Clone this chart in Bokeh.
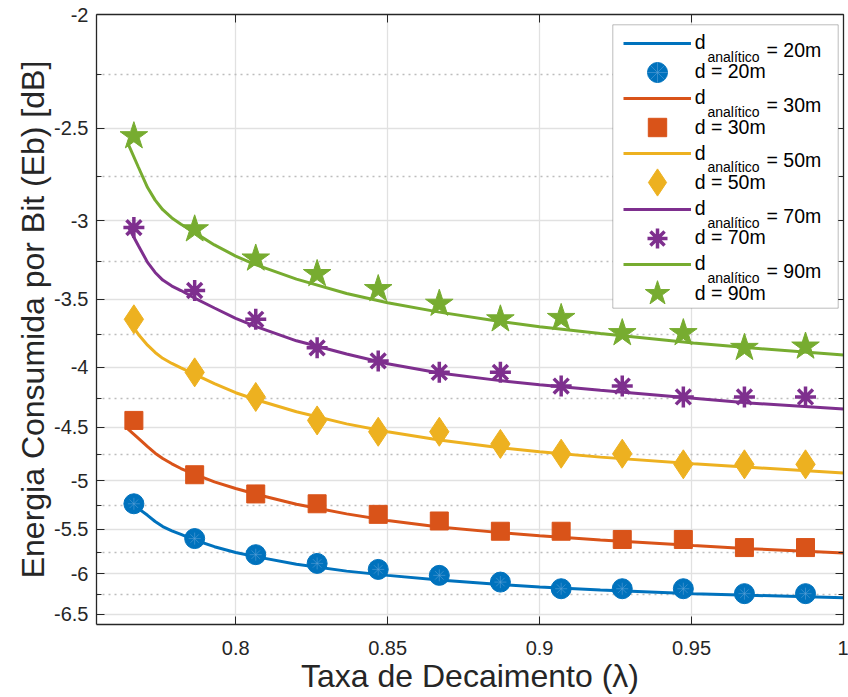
from bokeh.plotting import figure
from bokeh.models import (Range1d, FixedTicker, CustomJSTickFormatter, LinearAxis, LogAxis,
                          Legend, LegendItem, Label, BoxAnnotation, ColumnDataSource,
                          CustomLabelingPolicy)
from bokeh.core.properties import value
from bokeh.embed import file_html
from bokeh.resources import INLINE

# ---------------- data ----------------
x_ticks = [0.8, 0.85, 0.9, 0.95, 1.0]
y_ticks = [-2, -2.5, -3, -3.5, -4, -4.5, -5, -5.5, -6, -6.5]
y_minor = [-2.25, -2.75, -3.25, -3.75, -4.25, -4.75, -5.25, -5.75, -6.25]

# simulated points
x_pts = [0.7665, 0.7865, 0.8066, 0.8268, 0.8469, 0.867, 0.8871, 0.9071, 0.9272, 0.9473, 0.9674, 0.9875]
d20 = [-5.23, -5.60, -5.78, -5.88, -5.95, -6.02, -6.10, -6.18, -6.18, -6.18, -6.24, -6.24]
d30 = [-4.44, -4.94, -5.13, -5.23, -5.34, -5.41, -5.52, -5.52, -5.61, -5.61, -5.70, -5.70]
d50 = [-3.64, -4.04, -4.24, -4.44, -4.54, -4.54, -4.65, -4.74, -4.74, -4.84, -4.84, -4.84]
d70 = [-3.04, -3.44, -3.64, -3.85, -3.95, -4.04, -4.04, -4.15, -4.15, -4.24, -4.24, -4.24]
d90 = [-2.54, -3.05, -3.23, -3.33, -3.43, -3.53, -3.64, -3.63, -3.74, -3.74, -3.85, -3.84]

# analytic curves
x_curve = [0.7645, 0.768, 0.771, 0.7735, 0.776, 0.779, 0.782, 0.786, 0.793, 0.800, 0.807, 0.820,
           0.8365, 0.850, 0.867, 0.887, 0.900, 0.920, 0.9506, 0.969, 1.0]
a20 = [-5.18, -5.28, -5.35, -5.415, -5.47, -5.515, -5.555, -5.61, -5.69, -5.755, -5.805, -5.89,
       -5.97, -6.02, -6.075, -6.13, -6.16, -6.195, -6.24, -6.26, -6.29]
a30 = [-4.515, -4.60, -4.675, -4.735, -4.785, -4.835, -4.88, -4.93, -5.01, -5.075, -5.135, -5.235,
       -5.335, -5.405, -5.475, -5.535, -5.57, -5.617, -5.678, -5.712, -5.762]
a50 = [-3.64, -3.75, -3.83, -3.885, -3.93, -3.97, -4.005, -4.05, -4.13, -4.205, -4.265, -4.365,
       -4.47, -4.54, -4.615, -4.684, -4.722, -4.772, -4.834, -4.868, -4.923]
a70 = [-3.03, -3.15, -3.255, -3.32, -3.37, -3.41, -3.44, -3.486, -3.56, -3.633, -3.695, -3.797,
       -3.897, -3.972, -4.045, -4.106, -4.139, -4.185, -4.25, -4.29, -4.342]
a90 = [-2.575, -2.70, -2.81, -2.88, -2.935, -2.983, -3.02, -3.064, -3.145, -3.215, -3.273, -3.364,
       -3.46, -3.523, -3.589, -3.655, -3.693, -3.743, -3.813, -3.85, -3.904]

distances = ["20m", "30m", "50m", "70m", "90m"]
colors = ["#0072BD", "#D95319", "#EDB120", "#7E2F8E", "#77AC30"]

FONT = "Liberation Sans"
AX = "#262626"

# ---------------- figure ----------------
p = figure(width=848, height=697, output_backend="svg", toolbar_location=None,
           x_range=Range1d(0.7542, 1.0), y_range=Range1d(6.63, 2.0),
           y_axis_type="log",
           min_border_left=96, min_border_right=3, min_border_top=14, min_border_bottom=73,
           background_fill_color="white", border_fill_color="white")
p.outline_line_color = None

xticker = FixedTicker(ticks=x_ticks)
yticker = FixedTicker(ticks=[-v for v in y_ticks], minor_ticks=[-v for v in y_minor])
xfmt = CustomJSTickFormatter(code="return tick.toString()")
yfmt = CustomJSTickFormatter(code="return '-' + tick.toString()")

xa = p.xaxis[0]
xa.ticker = xticker
xa.formatter = xfmt
ya = p.yaxis[0]
ya.ticker = yticker
ya.formatter = yfmt

for ax in (xa, ya):
    ax.axis_line_color = AX
    ax.axis_line_width = 1.3
    ax.major_tick_line_color = AX
    ax.minor_tick_line_color = AX
    ax.major_tick_in = 8
    ax.major_tick_out = 0
    ax.minor_tick_in = 5
    ax.minor_tick_out = 0
    ax.major_label_text_font = FONT
    ax.major_label_text_font_size = "20px"
    ax.major_label_text_color = AX
    ax.axis_label_text_font = FONT
    ax.axis_label_text_font_size = "32px"
    ax.axis_label_text_font_style = "normal"
    ax.axis_label_text_color = AX
    ax.axis_label_standoff = 0
xa.minor_tick_in = 0
xa.major_label_standoff = 16
ya.major_label_standoff = 8
xa.axis_label = "Taxa de Decaimento (λ)"
ya.axis_label = "Energia Consumida por Bit (Eb) [dB]"

top = LinearAxis(ticker=xticker, formatter=xfmt, major_label_text_font_size="1px",
                 major_label_policy=CustomLabelingPolicy(code="return new Set()"),
                 major_label_standoff=0, major_tick_in=8, major_tick_out=0,
                 minor_tick_in=0, minor_tick_out=0, axis_line_color=AX, axis_line_width=1.3,
                 major_tick_line_color=AX)
right = LogAxis(ticker=yticker, formatter=yfmt, major_label_text_font_size="1px",
                major_label_policy=CustomLabelingPolicy(code="return new Set()"),
                major_label_standoff=0, major_tick_in=8, major_tick_out=0,
                minor_tick_in=5, minor_tick_out=0, axis_line_color=AX, axis_line_width=1.3,
                major_tick_line_color=AX, minor_tick_line_color=AX)
p.add_layout(top, "above")
p.add_layout(right, "right")

p.xgrid.ticker = xticker
p.ygrid.ticker = yticker
p.xgrid.grid_line_color = "#e1e1e1"
p.ygrid.grid_line_color = "#e1e1e1"
p.xgrid.grid_line_width = 1.3
p.ygrid.grid_line_width = 1.3
p.ygrid.minor_grid_line_color = "#bdbdbd"
p.ygrid.minor_grid_line_dash = "2 4"
p.ygrid.minor_grid_line_width = 1.3

# ---------------- glyphs ----------------
curves = [a20, a30, a50, a70, a90]
points = [d20, d30, d50, d70, d90]
markers = ["circle", "square", "diamond", "asterisk", "star"]
sizes = [20, 18, 29, 21, 29]
legend_h = [50, 46, 70, 50, 64]   # legend glyph box heights -> legend marker sizes

entries = []  # (renderers, label text, is_line, dist, glyph height)
for curve, pts, col, mk, sz, dist, gh in zip(curves, points, colors, markers, sizes, distances, legend_h):
    src_c = ColumnDataSource(dict(x=x_curve, y=[-v for v in curve]))
    src_p = ColumnDataSource(dict(x=x_pts, y=[-v for v in pts]))
    lr = p.line("x", "y", source=src_c, line_color=col, line_width=3)
    if mk == "asterisk":
        sr = p.scatter("x", "y", source=src_p, marker=mk, size=sz, line_color=col, line_width=3.5)
        rs = [sr]
    else:
        sr = p.scatter("x", "y", source=src_p, marker=mk, size=sz, fill_color=col,
                       line_color=col, line_width=1)
        rs = [sr]
        if mk == "circle":
            inner = p.scatter("x", "y", source=src_p, marker="asterisk", size=12,
                              line_color="#5ea2d8", line_width=0.7, line_alpha=0.8)
            rs.append(inner)
    entries.append(([lr], "d", True, dist, 50))
    entries.append((rs, "d = " + dist, False, dist, gh))

# legend frame
FL = 96.0   # frame left (px)
FB = 624.0  # frame bottom (px)
box = BoxAnnotation(left=612.3 - FL, right=837.7 - FL, bottom=FB - 307.7, top=FB - 24.3,
                    left_units="screen", right_units="screen",
                    bottom_units="screen", top_units="screen",
                    fill_color="white", fill_alpha=1.0, line_color=AX, line_width=1)
p.add_layout(box)

for i, (rs, text, is_line, dist, gh) in enumerate(entries):
    c = 44.0 + 27.67 * i
    if is_line:
        c -= 1.5
    lg = Legend(items=[LegendItem(label=value(text), renderers=rs)],
                location=(622.7 - FL, FB - (c + gh / 2.0)),
                glyph_width=68, glyph_height=gh, label_height=gh, padding=0, margin=0,
                label_standoff=4, label_text_font=FONT, label_text_font_size="19.5px",
                label_text_color="black", border_line_alpha=0, background_fill_alpha=0)
    p.add_layout(lg)
    if is_line:
        p.add_layout(Label(x=707 - FL, y=FB - (c + 13.5), x_units="screen", y_units="screen",
                           text="analítico", text_font=FONT, text_font_size="14px",
                           text_color="black", text_baseline="alphabetic", text_align="left"))
        p.add_layout(Label(x=766 - FL, y=FB - (c + 6.8), x_units="screen", y_units="screen",
                           text="= " + dist, text_font=FONT, text_font_size="19.5px",
                           text_color="black", text_baseline="alphabetic", text_align="left"))

open("out.html", "w").write(file_html(p, INLINE))
